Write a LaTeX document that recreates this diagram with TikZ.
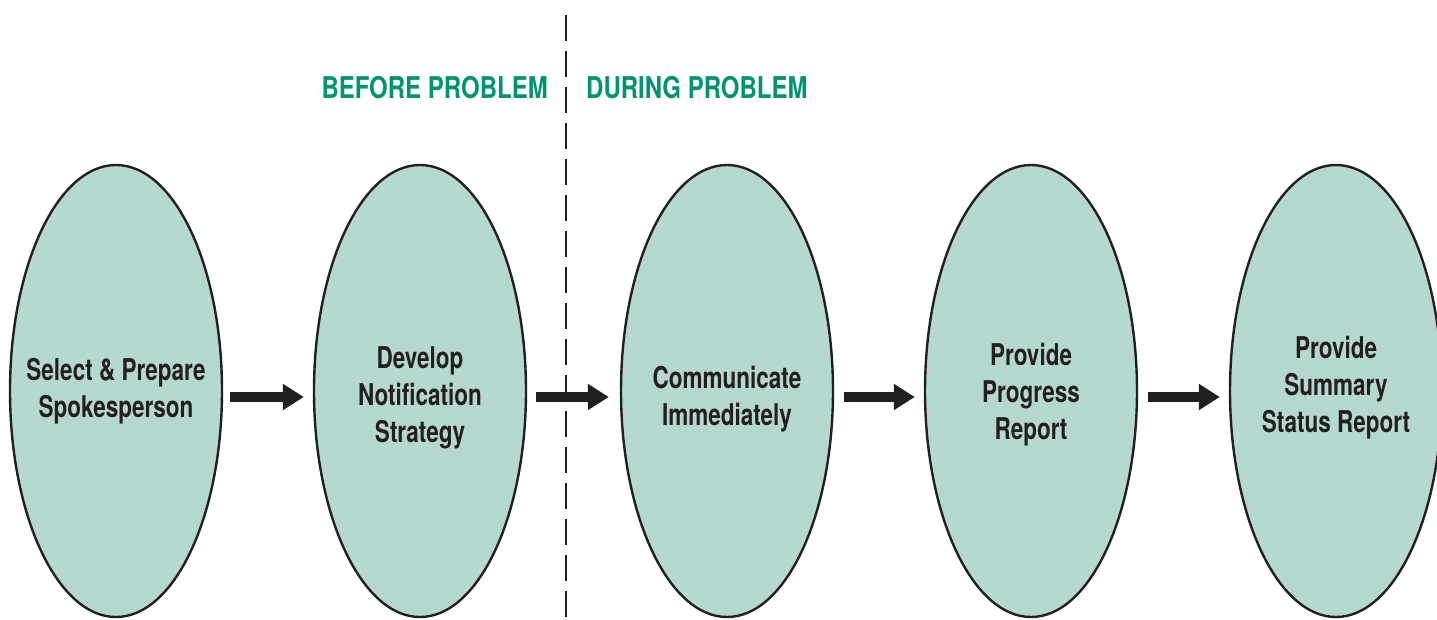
\documentclass[tikz,border=0pt]{standalone}
\usepackage{fontspec}
\setmainfont[FakeStretch=0.75]{TeX Gyre Heros}
\newfontfamily\phasefont[FakeStretch=0.80]{TeX Gyre Heros}
\usetikzlibrary{shapes.geometric,arrows.meta,calc}
\definecolor{stagefill}{HTML}{B5D9D0}
\definecolor{phasegreen}{HTML}{00956F}
\definecolor{inkblack}{HTML}{231F20}
\tikzset{
	stage/.style={ellipse, draw=inkblack, line width=2.4pt, fill=stagefill, minimum width=212pt, minimum height=452pt, inner sep=0pt},
	stagetext/.style={align=center, inner sep=0pt, text=inkblack, font=\fontsize{30}{37}\selectfont\bfseries},
	flow/.style={draw=inkblack, line width=10pt, -{Triangle[length=21pt,width=25pt]}},
	phase/.style={inner sep=0pt, text=phasegreen, font=\phasefont\fontsize{30}{36}\selectfont\bfseries},
	divider/.style={draw=inkblack, line width=2pt, dash pattern=on 26pt off 10pt}
}
\begin{document}
\begin{tikzpicture}[x=1pt,y=-1pt]
	\useasboundingbox (0,0) rectangle (1437,619);

	\draw[divider] (566,15) -- (566,619);

	\node[phase, anchor=east] (before) at (548,88) {BEFORE PROBLEM};
	\node[phase, anchor=west] (during) at (586,88) {DURING PROBLEM};

	\node[stage] (select) at (116,391) {};
	\node[stage] (develop) at (420,391) {};
	\node[stage] (communicate) at (727,391) {};
	\node[stage] (progress) at (1031,391) {};
	\node[stage] (summary) at (1336,391) {};

	\node[stagetext] (select text) at ($(select.center)+(0,0)$) {Select \& Prepare\\Spokesperson};
	\node[stagetext] (develop text) at ($(develop.center)+(0,7)$) {Develop\\Notification\\Strategy};
	\node[stagetext] (communicate text) at ($(communicate.center)+(0,8)$) {Communicate\\Immediately};
	\node[stagetext] (progress text) at ($(progress.center)+(0,4)$) {Provide\\Progress\\Report};
	\node[stagetext] (summary text) at ($(summary.center)+(0,-3)$) {Provide\\Summary\\Status Report};

	\draw[flow] ($(select.east)+(7,6)$) -- ($(develop.west)+(-9,6)$);
	\draw[flow] ($(develop.east)+(9,6)$) -- ($(communicate.west)+(-11,6)$);
	\draw[flow] ($(communicate.east)+(10,6)$) -- ($(progress.west)+(-9,6)$);
	\draw[flow] ($(progress.east)+(10,6)$) -- ($(summary.west)+(-9,6)$);
\end{tikzpicture}
\end{document}
